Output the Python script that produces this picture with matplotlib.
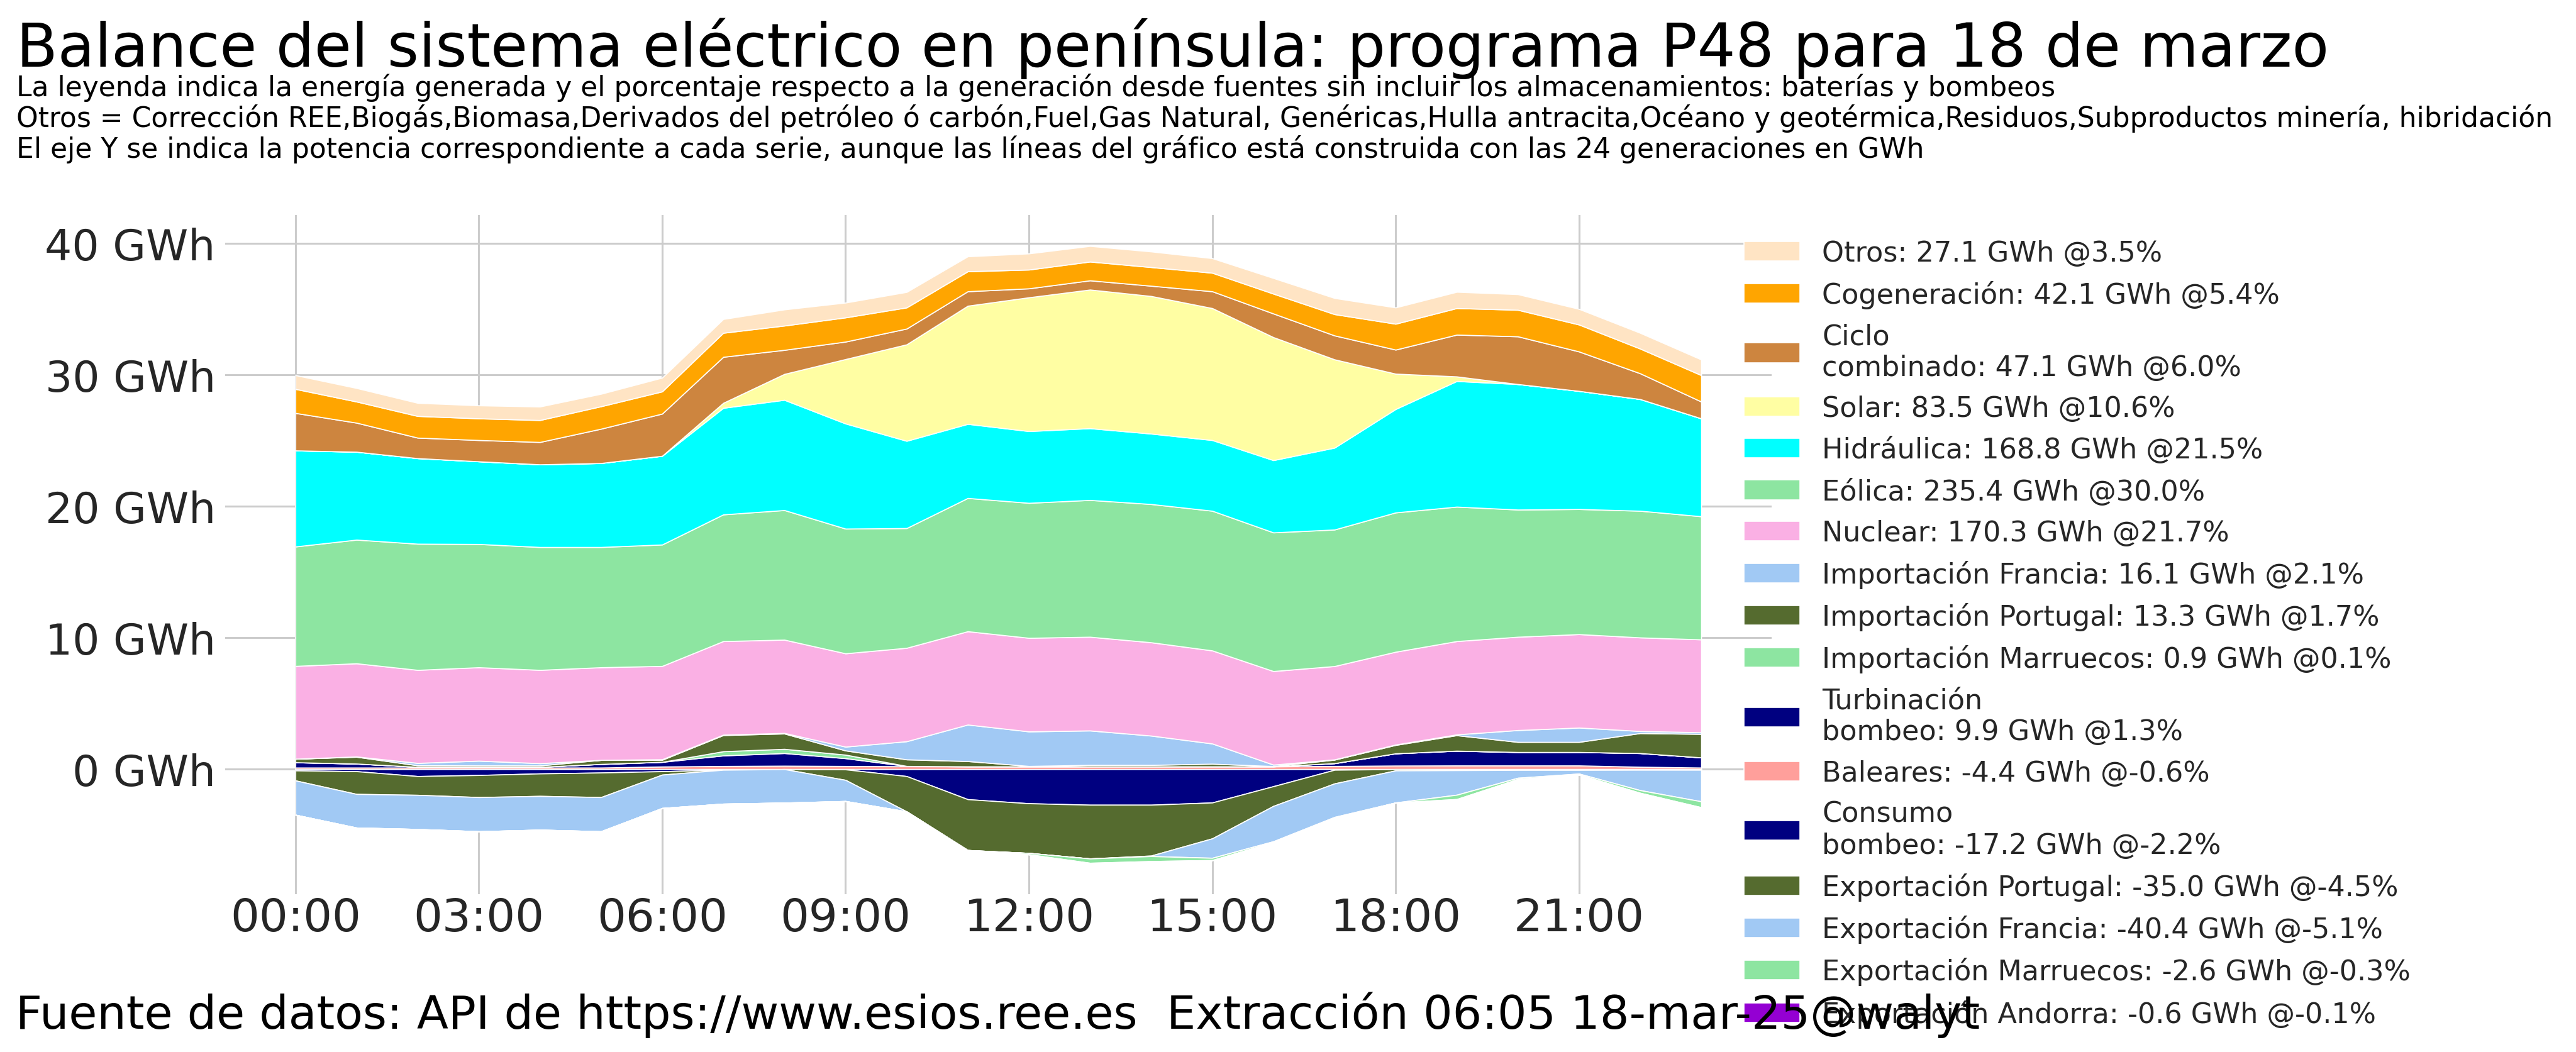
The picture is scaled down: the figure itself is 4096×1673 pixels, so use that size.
import numpy as np
import matplotlib
matplotlib.use('Agg')
import matplotlib.pyplot as plt
from matplotlib.ticker import FuncFormatter, MultipleLocator

# Horas del programa P48
hours = np.arange(24)
tick_hours = [0, 3, 6, 9, 12, 15, 18, 21]
tick_labels = ['00:00', '03:00', '06:00', '09:00', '12:00', '15:00', '18:00', '21:00']

# Series positivas (GWh por hora), de abajo hacia arriba
baleares = [0.12, 0.12, 0.12, 0.12, 0.12, 0.12, 0.20, 0.24, 0.26, 0.24, 0.22, 0.21,
            0.21, 0.21, 0.21, 0.21, 0.21, 0.24, 0.27, 0.28, 0.28, 0.28, 0.18, 0.12]
turbinacion = [0.40, 0.30, 0.05, 0.05, 0.05, 0.27, 0.35, 0.80, 0.96, 0.59, 0.02, 0.0,
               0.0, 0.0, 0.0, 0.0, 0.0, 0.21, 0.93, 1.12, 1.02, 1.02, 1.04, 0.77]
imp_marruecos = [0, 0, 0, 0, 0, 0, 0, 0.32, 0.32, 0.27, 0, 0,
                 0, 0, 0, 0, 0, 0, 0, 0, 0, 0, 0, 0]
imp_portugal = [0.27, 0.52, 0.12, 0.11, 0.11, 0.31, 0.16, 1.23, 1.17, 0.32, 0.50, 0.40,
                0.03, 0.11, 0.11, 0.20, 0.02, 0.27, 0.64, 1.18, 0.77, 0.77, 1.52, 1.79]
imp_francia = [0.0, 0.02, 0.18, 0.36, 0.17, 0.0, 0.04, 0.03, 0.04, 0.29, 1.38, 2.78,
               2.63, 2.62, 2.23, 1.54, 0.11, 0.02, 0.03, 0.06, 0.90, 1.09, 0.16, 0.12]
nuclear = [7.06, 7.09, 7.08, 7.11, 7.10, 7.05, 7.10, 7.12, 7.10, 7.10, 7.11, 7.10,
           7.12, 7.13, 7.10, 7.08, 7.12, 7.10, 7.06, 7.10, 7.10, 7.11, 7.12, 7.07]
eolica = [9.09, 9.41, 9.60, 9.38, 9.35, 9.15, 9.24, 9.64, 9.86, 9.49, 9.11, 10.14,
          10.27, 10.41, 10.52, 10.63, 10.55, 10.39, 10.60, 10.23, 9.68, 9.52, 9.64, 9.37]
hidraulica = [7.31, 6.69, 6.51, 6.29, 6.29, 6.39, 6.75, 8.11, 8.39, 8.00, 6.64, 5.64,
              5.46, 5.46, 5.36, 5.38, 5.50, 6.23, 7.87, 9.56, 9.55, 8.99, 8.50, 7.45]
solar = [0, 0, 0, 0, 0, 0, 0, 0.38, 1.97, 4.90, 7.34, 8.99,
         10.18, 10.55, 10.47, 10.04, 9.36, 6.72, 2.69, 0.35, 0, 0, 0, 0]
ciclo = [2.85, 2.21, 1.56, 1.62, 1.70, 2.61, 3.21, 3.50, 1.83, 1.33, 1.20, 1.10,
         0.68, 0.70, 0.78, 1.28, 1.80, 1.82, 1.83, 3.18, 3.63, 3.00, 1.96, 1.28]
cogeneracion = [1.83, 1.61, 1.65, 1.65, 1.67, 1.71, 1.69, 1.83, 1.85, 1.84, 1.61, 1.52,
                1.43, 1.43, 1.42, 1.41, 1.51, 1.62, 1.97, 2.02, 2.02, 2.05, 1.88, 2.01]
otros = [1.05, 1.03, 1.00, 0.99, 1.03, 0.95, 1.05, 1.05, 1.23, 1.13, 1.18, 1.14,
         1.23, 1.19, 1.19, 1.11, 1.19, 1.23, 1.24, 1.24, 1.19, 1.19, 1.20, 1.19]

# Series negativas (GWh por hora), desde cero hacia abajo
consumo_bombeo = [-0.10, -0.16, -0.53, -0.45, -0.33, -0.26, -0.16, -0.05, 0.0, -0.02, -0.53, -2.29,
                  -2.60, -2.71, -2.71, -2.54, -1.30, -0.05, 0, 0, 0, 0, 0, 0]
exp_portugal = [-0.76, -1.73, -1.43, -1.68, -1.71, -1.87, -0.26, 0, 0, -0.80, -2.69, -3.87,
                -3.78, -4.09, -3.87, -2.73, -1.50, -1.04, -0.10, -0.08, -0.06, -0.06, -0.05, -0.05]
exp_francia = [-2.61, -2.56, -2.60, -2.60, -2.57, -2.60, -2.54, -2.58, -2.55, -1.61, 0, 0,
               0, 0, -0.04, -1.48, -2.69, -2.55, -2.44, -1.87, -0.60, -0.28, -1.55, -2.40]
exp_marruecos = [0, 0, 0, 0, 0, 0, 0, 0, 0, 0, 0, 0,
                 -0.10, -0.33, -0.38, -0.17, -0.06, -0.06, 0, -0.33, -0.09, -0.07, -0.20, -0.45]
exp_andorra = [-0.025] * 24

pos_series = [baleares, turbinacion, imp_marruecos, imp_portugal, imp_francia, nuclear,
              eolica, hidraulica, solar, ciclo, cogeneracion, otros]
pos_colors = ['#ff9f9b', 'navy', '#8de5a1', 'darkolivegreen', '#a1c9f4', '#fab0e4',
              '#8de5a1', 'cyan', '#fffea3', 'peru', 'orange', 'bisque']
pos_labels = ['Baleares: -4.4 GWh @-0.6%',
              'Turbinación\nbombeo: 9.9 GWh @1.3%',
              'Importación Marruecos: 0.9 GWh @0.1%',
              'Importación Portugal: 13.3 GWh @1.7%',
              'Importación Francia: 16.1 GWh @2.1%',
              'Nuclear: 170.3 GWh @21.7%',
              'Eólica: 235.4 GWh @30.0%',
              'Hidráulica: 168.8 GWh @21.5%',
              'Solar: 83.5 GWh @10.6%',
              'Ciclo\ncombinado: 47.1 GWh @6.0%',
              'Cogeneración: 42.1 GWh @5.4%',
              'Otros: 27.1 GWh @3.5%']

neg_series = [consumo_bombeo, exp_portugal, exp_francia, exp_marruecos, exp_andorra]
neg_colors = ['navy', 'darkolivegreen', '#a1c9f4', '#8de5a1', 'darkviolet']
neg_labels = ['Consumo\nbombeo: -17.2 GWh @-2.2%',
              'Exportación Portugal: -35.0 GWh @-4.5%',
              'Exportación Francia: -40.4 GWh @-5.1%',
              'Exportación Marruecos: -2.6 GWh @-0.3%',
              'Exportación Andorra: -0.6 GWh @-0.1%']

title = 'Balance del sistema eléctrico en península: programa P48 para 18 de marzo'
subtitle_lines = [
    'La leyenda indica la energía generada y el porcentaje respecto a la generación desde fuentes sin incluir los almacenamientos: baterías y bombeos',
    'Otros = Corrección REE,Biogás,Biomasa,Derivados del petróleo ó carbón,Fuel,Gas Natural, Genéricas,Hulla antracita,Océano y geotérmica,Residuos,Subproductos minería, hibridación',
    'El eje Y se indica la potencia correspondiente a cada serie, aunque las líneas del gráfico está construida con las 24 generaciones en GWh']
footer = 'Fuente de datos: API de https://www.esios.ree.es  Extracción 06:05 18-mar-25@walyt'

W, H = 4096, 1674
fig = plt.figure(figsize=(W / 100, H / 100), dpi=100)
ax = fig.add_axes([0.0874, 0.150, 0.6003, 0.645])

handles = {}
bottom = np.zeros(24)
for vals, col, lab in zip(pos_series, pos_colors, pos_labels):
    top = bottom + np.array(vals)
    handles[lab] = ax.fill_between(hours, bottom, top, facecolor=col, edgecolor='white',
                                   linewidth=1.2, zorder=2)
    bottom = top

bottom = np.zeros(24)
for vals, col, lab in zip(neg_series, neg_colors, neg_labels):
    low = bottom + np.array(vals)
    handles[lab] = ax.fill_between(hours, low, bottom, facecolor=col, edgecolor='white',
                                   linewidth=1.2, zorder=2)
    bottom = low

ax.set_xticks(tick_hours)
ax.set_xticklabels(tick_labels)
ax.yaxis.set_major_locator(MultipleLocator(10))
ax.yaxis.set_major_formatter(FuncFormatter(lambda v, p: '%d GWh' % v))
ax.tick_params(axis='x', labelsize=52, length=0, pad=3, labelcolor='#262626')
ax.tick_params(axis='y', labelsize=49, length=0, pad=11, labelcolor='#262626')
ax.grid(True, color='#cccccc', linewidth=2.2)
ax.set_axisbelow(True)
for s in ax.spines.values():
    s.set_visible(False)

order = pos_labels[::-1] + neg_labels
leg = ax.legend([handles[l] for l in order], order, loc='upper left',
                bbox_to_anchor=(0.677, 0.772), bbox_transform=fig.transFigure,
                frameon=False, fontsize=32, borderpad=0, borderaxespad=0,
                labelspacing=0.5)
for t in leg.get_texts():
    t.set_color('#262626')

fig.text(26 / W, 1 - 106 / H, title, fontsize=69, va='baseline', ha='left')
for i, line in enumerate(subtitle_lines):
    fig.text(26 / W, 1 - (152.5 + 49.5 * i) / H, line, fontsize=31.7,
             va='baseline', ha='left')
fig.text(25 / W, 1 - 1636 / H, footer, fontsize=52.7, va='baseline', ha='left')

fig.savefig('out.png', dpi=100)
